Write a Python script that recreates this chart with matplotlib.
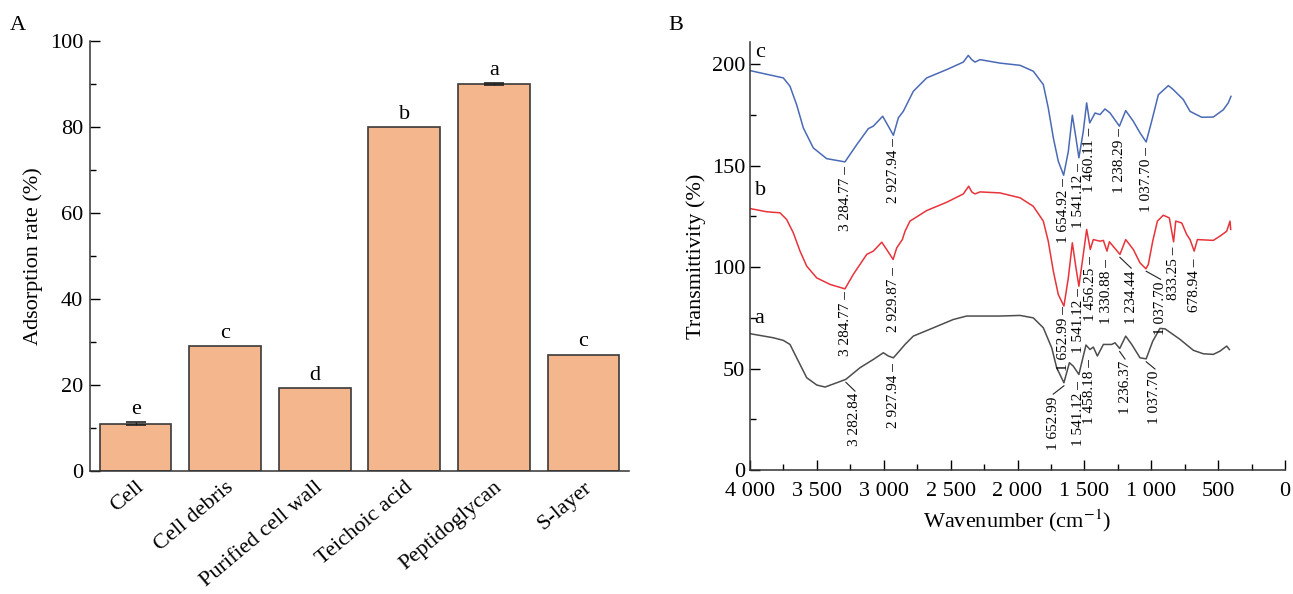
import numpy as np
import matplotlib
matplotlib.use('Agg')
import matplotlib.pyplot as plt
from matplotlib.ticker import MultipleLocator, FuncFormatter

plt.rcParams['font.family'] = ['Liberation Serif', 'DejaVu Serif']
plt.rcParams['mathtext.fontset'] = 'stix'

# ---- panel A data ----
categories = ['Cell', 'Cell debris', 'Purified cell wall', 'Teichoic acid', 'Peptidoglycan', 'S-layer']
adsorption = [11.0, 29.0, 19.2, 80.0, 90.0, 27.0]
adsorption_err = [0.4, 0.0, 0.0, 0.0, 0.2, 0.0]
letters = ['e', 'c', 'd', 'b', 'a', 'c']

# ---- panel B data (wavenumber, transmittance) ----
wn_c = [4000, 3751, 3701, 3651, 3601, 3527, 3427, 3290, 3202, 3115, 3078, 3008, 2966, 2928,
        2891, 2854, 2779, 2679, 2529, 2405, 2368, 2342, 2318, 2280, 2131, 1981, 1882, 1807,
        1770, 1732, 1695, 1655, 1620, 1590, 1563, 1541, 1508, 1483, 1460, 1420, 1383, 1346,
        1308, 1238, 1191, 1134, 1084, 1038, 997, 947, 872, 835, 760, 710, 623, 536, 461,
        424, 404]
t_c = [196.9, 193.3, 189.2, 180.0, 168.6, 158.8, 153.5, 151.9, 160.4, 168.3, 169.5, 174.4,
       169.5, 165.0, 173.6, 176.8, 186.7, 193.3, 197.4, 201.1, 204.4, 202.3, 201.1, 202.3,
       200.6, 199.5, 196.6, 190.0, 178.5, 163.7, 152.2, 145.3, 157.1, 174.9, 163.7, 153.9,
       167.0, 181.0, 171.1, 176.0, 175.2, 178.0, 176.0, 169.5, 177.2, 171.9, 166.2, 161.7,
       171.9, 185.0, 189.5, 187.5, 182.6, 176.8, 173.9, 174.0, 177.6, 181.0, 184.2]

wn_b = [4000, 3875, 3776, 3726, 3676, 3626, 3576, 3501, 3402, 3290, 3228, 3127, 3078, 3015,
        2978, 2930, 2903, 2861, 2841, 2804, 2679, 2529, 2405, 2365, 2342, 2318, 2280, 2131,
        1981, 1882, 1807, 1770, 1732, 1695, 1653, 1620, 1590, 1563, 1541, 1508, 1483, 1456,
        1433, 1383, 1358, 1331, 1313, 1234, 1191, 1134, 1084, 1040, 1022, 989, 954, 910, 865,
        833, 817, 772, 735, 710, 679, 655, 536, 486, 436, 411, 406]
t_b = [128.9, 127.3, 126.8, 123.5, 116.9, 107.9, 100.5, 94.7, 91.5, 89.3, 96.4, 106.3, 107.9,
       112.3, 108.7, 103.8, 109.5, 113.6, 117.7, 122.7, 127.9, 132.0, 136.1, 139.9, 137.1,
       136.1, 137.1, 136.6, 134.2, 130.0, 122.7, 112.8, 98.0, 86.5, 80.8, 94.7, 112.0, 99.7,
       90.6, 106.3, 118.6, 108.7, 113.6, 112.8, 113.2, 107.9, 112.5, 106.3, 113.6, 108.7,
       102.1, 99.2, 101.3, 112.8, 122.7, 125.6, 124.3, 112.5, 122.7, 121.8, 116.1, 113.6,
       107.9, 113.6, 113.2, 115.3, 117.7, 122.7, 118.6]

wn_a = [4000, 3826, 3751, 3701, 3651, 3576, 3501, 3439, 3352, 3283, 3178, 3078, 3003, 2966,
        2928, 2884, 2841, 2779, 2629, 2480, 2380, 2280, 2131, 1981, 1882, 1807, 1744, 1707,
        1653, 1612, 1583, 1541, 1520, 1488, 1458, 1433, 1403, 1358, 1296, 1271, 1236, 1191,
        1146, 1084, 1038, 989, 935, 897, 785, 685, 611, 536, 486, 436, 416]
t_a = [67.2, 65.2, 63.9, 61.9, 55.3, 45.5, 41.9, 40.9, 43.0, 44.7, 50.4, 54.5, 57.8, 56.2,
       55.3, 58.6, 61.9, 66.0, 70.1, 74.2, 75.9, 75.9, 75.9, 76.2, 75.0, 70.1, 60.2, 50.4,
       43.0, 52.9, 51.2, 47.1, 52.9, 61.6, 59.4, 60.6, 56.2, 61.9, 61.9, 62.7, 59.9, 66.0,
       61.9, 55.3, 54.8, 63.5, 69.8, 69.6, 64.4, 59.0, 57.3, 57.0, 58.6, 61.1, 59.4]

# peak labels: (label, peak wavenumber, text top, text x or None for straight dash)
peaks_c = [('3 284.77', 3284.77, 149.8, None), ('2 927.94', 2927.94, 163.7, None),
           ('1 654.92', 1654.92, 144.0, None), ('1 541.12', 1541.12, 151.4, None),
           ('1 460.11', 1460.11, 168.6, None), ('1 238.29', 1238.29, 168.3, None),
           ('1 037.70', 1037.70, 159.0, None)]
peaks_b = [('3 284.77', 3284.77, 88.0, None), ('2 929.87', 2929.87, 100.0, None),
           ('1 652.99', 1652.99, 80.8, None), ('1 541.12', 1541.12, 89.8, None),
           ('1 456.25', 1456.25, 105.4, None), ('1 330.88', 1330.88, 104.0, None),
           ('1 234.44', 1234.44, 99.5, 1150), ('1 037.70', 1037.70, 94.0, 930),
           ('833.25', 833.25, 110.0, None), ('678.94', 678.94, 104.0, None)]
peaks_a = [('3 282.84', 3282.84, 38.9, 3215), ('2 927.94', 2927.94, 52.9, None),
           ('1 652.99', 1652.99, 37.4, 1733), ('1 541.12', 1541.12, 43.8, None),
           ('1 458.18', 1458.18, 54.7, None), ('1 236.37', 1236.37, 54.7, 1196),
           ('1 037.70', 1037.70, 49.8, 972)]

bar_color = '#F4B68C'
edge_color = '#3a3a3a'

fig = plt.figure(figsize=(12.93, 5.94), dpi=100)
axA = fig.add_axes([90 / 1293, 1 - 471 / 594, 539 / 1293, 430 / 594])
axB = fig.add_axes([750 / 1293, 1 - 470 / 594, 535 / 1293, 428 / 594])

# ---- panel A ----
x = np.arange(len(categories))
axA.bar(x, adsorption, width=0.8, color=bar_color, edgecolor=edge_color, linewidth=1.2)
err_idx = [i for i, e in enumerate(adsorption_err) if e > 0]
axA.errorbar([x[i] for i in err_idx], [adsorption[i] for i in err_idx],
             yerr=[adsorption_err[i] for i in err_idx], fmt='none',
             ecolor='#222222', elinewidth=1, capsize=7, capthick=1.2)
for xi, v, e, lt in zip(x, adsorption, adsorption_err, letters):
    axA.text(xi, v + e + 0.8, lt, ha='center', va='bottom', fontsize=16)
axA.set_xlim(-0.51, 5.51)
axA.set_ylim(0, 100)
axA.yaxis.set_major_locator(MultipleLocator(20))
axA.yaxis.set_minor_locator(MultipleLocator(10))
axA.set_xticks(x)
axA.set_xticklabels(categories, rotation=40, ha='right', rotation_mode='anchor', fontsize=16)
axA.tick_params(axis='x', length=0, pad=5)
axA.tick_params(axis='y', which='major', direction='in', length=7, labelsize=16, width=1, pad=5)
axA.tick_params(axis='y', which='minor', direction='in', length=4, width=1)
axA.set_ylabel('Adsorption rate (%)', fontsize=16, labelpad=5)
for s in ['top', 'right']:
    axA.spines[s].set_visible(False)
for s in ['left', 'bottom']:
    axA.spines[s].set_linewidth(1.1)
    axA.spines[s].set_color('#333333')

# ---- panel B ----
curves = [(wn_c, t_c, '#4A6AB5', peaks_c, 'c'),
          (wn_b, t_b, '#E8333A', peaks_b, 'b'),
          (wn_a, t_a, '#4d4d4d', peaks_a, 'a')]
for wn, t, col, peaks, name in curves:
    axB.plot(wn, t, color=col, linewidth=1.1)
    for lab, pw, top, tx in peaks:
        if tx is None:
            axB.text(pw, top, lab + ' \u2013', rotation=90, ha='center', va='top', fontsize=11)
        else:
            ty = np.interp(pw, wn[::-1], t[::-1])
            axB.plot([pw, tx], [ty - 1.5, top], color='#222222', linewidth=0.8)
            axB.text(tx, top - 1, lab, rotation=90, ha='center', va='top', fontsize=11)

axB.text(3965, t_c[0] + 4, 'c', fontsize=16, ha='left', va='bottom')
axB.text(3965, t_b[0] + 4, 'b', fontsize=16, ha='left', va='bottom')
axB.text(3965, t_a[0] + 3, 'a', fontsize=16, ha='left', va='bottom')

axB.set_xlim(4000, 0)
axB.set_ylim(0, 211)
axB.xaxis.set_major_locator(MultipleLocator(500))
axB.xaxis.set_minor_locator(MultipleLocator(250))
axB.yaxis.set_major_locator(MultipleLocator(50))
axB.yaxis.set_minor_locator(MultipleLocator(25))
axB.xaxis.set_major_formatter(FuncFormatter(lambda v, p: f'{int(v):,}'.replace(',', ' ')))
axB.tick_params(which='major', direction='in', length=7, labelsize=16, width=1)
axB.tick_params(axis='x', which='major', pad=9)
axB.tick_params(which='minor', direction='in', length=4, width=1)
axB.set_xlabel('Wavenumber (cm$^{-1}$)', fontsize=16, labelpad=4)
axB.set_ylabel('Transmittivity (%)', fontsize=16, labelpad=4)
for s in ['top', 'right']:
    axB.spines[s].set_visible(False)
for s in ['left', 'bottom']:
    axB.spines[s].set_linewidth(1.1)
    axB.spines[s].set_color('#333333')

fig.text(10 / 1293, 1 - 25 / 594, 'A', fontsize=16, va='center')
fig.text(668 / 1293, 1 - 25 / 594, 'B', fontsize=16, va='center')

fig.savefig('out.png', dpi=100)
